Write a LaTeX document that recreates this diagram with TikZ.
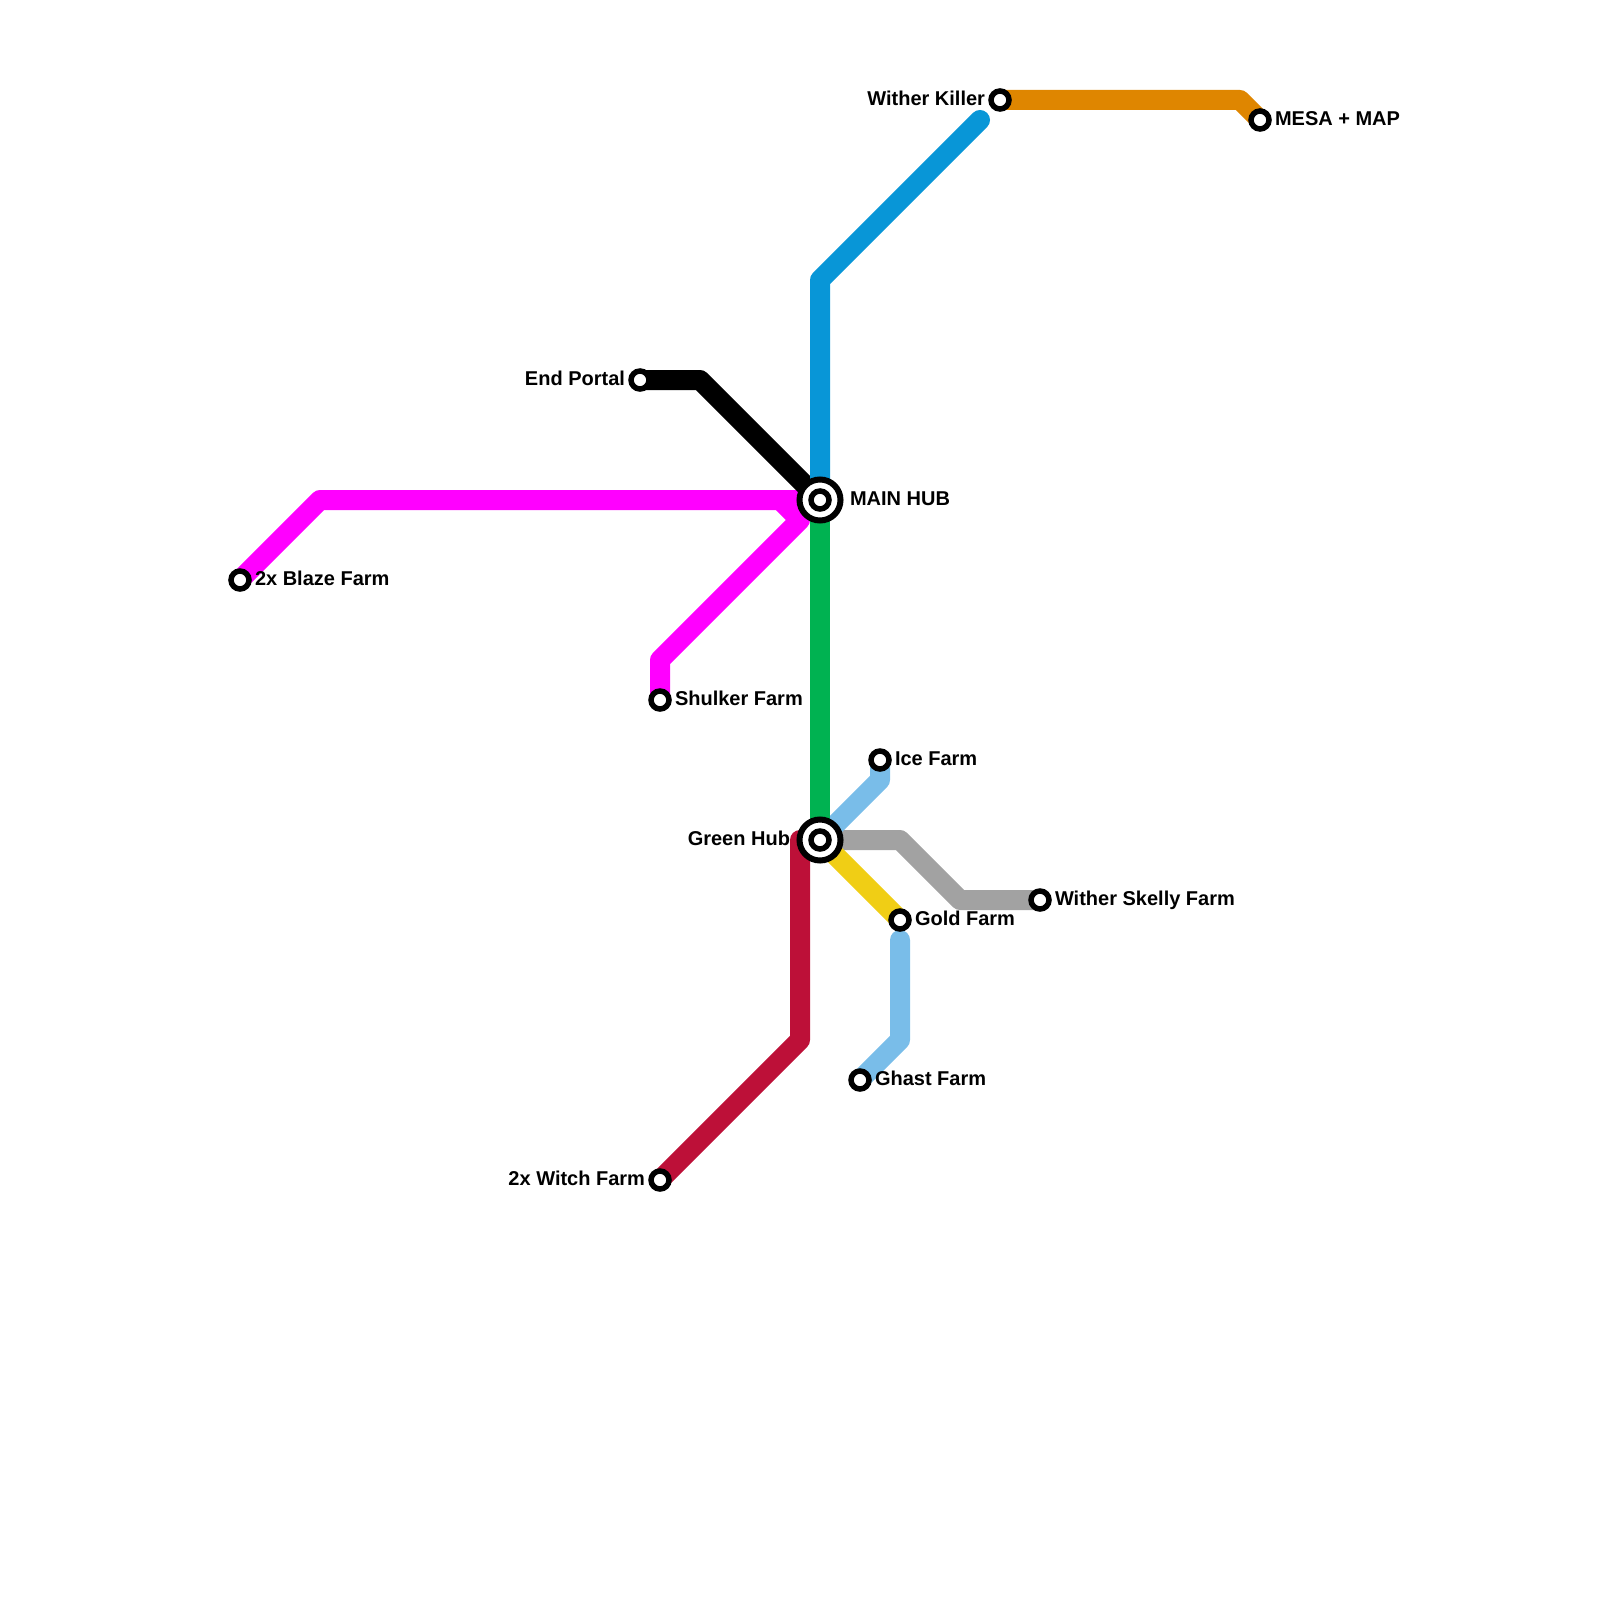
\documentclass[tikz,border=0pt]{standalone}
\usepackage{fontspec}
\setmainfont{Liberation Sans}
\usetikzlibrary{backgrounds}
\definecolor{cMag}{HTML}{FF00FF}
\definecolor{cBlue}{HTML}{0896D7}
\definecolor{cGreen}{HTML}{00B251}
\definecolor{cRed}{HTML}{BD1038}
\definecolor{cSky}{HTML}{79BDE9}
\definecolor{cGrey}{HTML}{A2A2A2}
\definecolor{cYel}{HTML}{F0CE15}
\definecolor{cOrg}{HTML}{DF8600}
\tikzset{
  route/.style={line width=10pt,line join=round,line cap=round},
  stn/.style={circle,draw=black,fill=white,line width=2.75pt,minimum size=9pt,inner sep=0pt,outer sep=0pt},
  hubring/.style={circle,draw=black,fill=white,line width=3pt,minimum size=20.5pt,inner sep=0pt,outer sep=0pt},
  lab/.style={inner sep=0pt,outer sep=0pt,font=\fontsize{10pt}{12pt}\selectfont\bfseries,text=black},
  labw/.style={lab,anchor=base west},
  labe/.style={lab,anchor=base east}
}
\begin{document}
\begin{tikzpicture}[x=0.5pt,y=-0.5pt]
\useasboundingbox (0,0) rectangle (1600,1600);
% stations
\node[hubring] (main) at (820,500) {};
\node[stn] (mainin) at (820,500) {};
\node[hubring] (ghub) at (820,840) {};
\node[stn] (ghubin) at (820,840) {};
\node[stn] (killer) at (1000,100) {};
\node[stn] (mesa) at (1260,120) {};
\node[stn] (endp) at (640,380) {};
\node[stn] (blaze) at (240,580) {};
\node[stn] (shulker) at (660,700) {};
\node[stn] (ice) at (880,760) {};
\node[stn] (gold) at (900,920) {};
\node[stn] (skelly) at (1040,900) {};
\node[stn] (ghast) at (860,1080) {};
\node[stn] (witch) at (660,1180) {};
% free ends
\coordinate (blueend) at (980,120);
\coordinate (ghasttop) at (900,940);
% labels
\node[labw] (tmain) at (850,505.5) {MAIN HUB};
\node[labe] (tghub) at (790,845.5) {Green Hub};
\node[labe] (tkiller) at (985,105.5) {Wither Killer};
\node[labw] (tmesa) at (1275,125.5) {MESA + MAP};
\node[labe] (tendp) at (625,385.5) {End Portal};
\node[labw] (tblaze) at (255,585.5) {2x Blaze Farm};
\node[labw] (tshulker) at (675,705.5) {Shulker Farm};
\node[labw] (tice) at (895,765.5) {Ice Farm};
\node[labw] (tgold) at (915,925.5) {Gold Farm};
\node[labw] (tskelly) at (1055,905.5) {Wither Skelly Farm};
\node[labw] (tghast) at (875,1085.5) {Ghast Farm};
\node[labe] (twitch) at (645,1185.5) {2x Witch Farm};
% routes
\begin{scope}[on background layer]
\draw[route,cMag] (blaze.center) -- (320,500) -- (main.center);
\draw[route,cMag] (shulker.center) -- (660,660) -- (800,520) -- (780,500);
\draw[route,black] (endp.center) -- (700,380) -- (main.center);
\draw[route,cRed] (ghub.center) -- (800,840) -- (800,1040) -- (witch.center);
\draw[route,cGrey] (ghub.center) -- (900,840) -- (960,900) -- (skelly.center);
\draw[route,cYel] (ghub.center) -- (gold.center);
\draw[route,cSky] (ice.center) -- (880,780) -- (ghub.center);
\draw[route,cSky] (ghasttop) -- (900,1040) -- (ghast.center);
\draw[route,cOrg] (killer.center) -- (1240,100) -- (mesa.center);
\draw[route,cBlue] (main.center) -- (820,280) -- (blueend);
\draw[route,cGreen] (main.center) -- (ghub.center);
\end{scope}
\end{tikzpicture}
\end{document}
